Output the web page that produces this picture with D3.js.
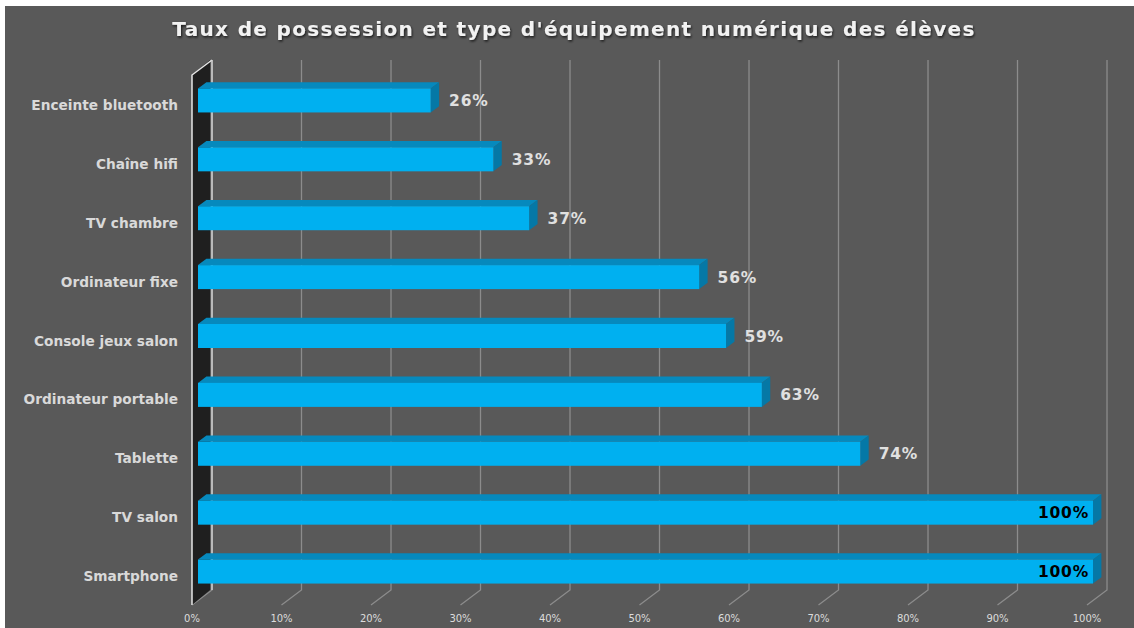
<!DOCTYPE html>
<html>
<head>
<meta charset="utf-8">
<script src="https://cdn.jsdelivr.net/npm/d3@7"></script>
<style>
html,body{margin:0;padding:0;background:#fff;}
svg{display:block;}
</style>
</head>
<body>
<svg id="chart" width="1134" height="628"></svg>
<script>
const categories = ["Enceinte bluetooth","Chaîne hifi","TV chambre","Ordinateur fixe","Console jeux salon","Ordinateur portable","Tablette","TV salon","Smartphone"];
const values = [0.26,0.33,0.37,0.56,0.59,0.63,0.74,1.00,1.00];
const tickValues = [0,0.1,0.2,0.3,0.4,0.5,0.6,0.7,0.8,0.9,1.0];
const title = "Taux de possession et type d'équipement numérique des élèves";

const W = 1134, H = 628;
const svg = d3.select("#chart");
const font = "'DejaVu Sans', Verdana, sans-serif";

// background
svg.append("rect").attr("x",5).attr("y",6).attr("width",W-5).attr("height",H-6).attr("fill","#595959");

// 3D geometry
const DX = 20, DY = -15;            // full depth offset
const x = d3.scaleLinear().domain([0,1]).range([192,1087]);   // front plane
const y = d3.scaleBand().domain(categories).range([75,605]).paddingInner(0).paddingOuter(0);
const floorY = 605;
const dFront = 0.3, dBack = 0.72;   // bar depth fractions

// gridlines on back wall + floor diagonals
svg.append("g").selectAll("path.grid").data(tickValues).join("path")
  .attr("class","grid")
  .attr("d", t => `M${x(t)+DX},${75+DY} L${x(t)+DX},${floorY+DY} L${x(t)},${floorY}`)
  .attr("fill","none").attr("stroke","#8c8c8c").attr("stroke-width",1.3);

// left wall
const wall = svg.append("g");
wall.append("path")
  .attr("d", `M${x(0)},${75} L${x(0)+DX-2},${75+DY} L${x(0)+DX-2},${floorY+DY} L${x(0)},${floorY} Z`)
  .attr("fill","#1f1f1f");
wall.append("path")
  .attr("d", `M${x(0)},${floorY} L${x(0)},${75} L${x(0)+DX},${75+DY}`)
  .attr("fill","none").attr("stroke","#e6e6e6").attr("stroke-width",1.5);
wall.append("line")
  .attr("x1",x(0)+DX).attr("x2",x(0)+DX).attr("y1",75+DY).attr("y2",floorY+DY)
  .attr("stroke","#d0d0d0").attr("stroke-width",1.5);

// axis tick labels (front)
svg.append("g").selectAll("text").data(tickValues).join("text")
  .attr("x", t => x(t)).attr("y", 622)
  .attr("text-anchor","middle")
  .attr("font-family", font).attr("font-size", 10)
  .attr("fill","#dcdcdc")
  .text(d3.format(".0%"));

// bars
const barH = 24;
const bars = svg.append("g").selectAll("g").data(categories.map((c,i)=>({c, v:values[i]}))).join("g");
const fx = d => x(0) + DX*dFront;
const fy = d => y(d.c) + y.bandwidth()/2 + DY*dFront - barH/2 + 0.5;
const ddx = DX*(dBack-dFront), ddy = DY*(dBack-dFront);
// top face
bars.append("path")
  .attr("d", d => {
    const x0 = fx(d), x1 = x(d.v) + DX*dFront, y0 = fy(d);
    return `M${x0},${y0} L${x0+ddx},${y0+ddy} L${x1+ddx},${y0+ddy} L${x1},${y0} Z`;
  })
  .attr("fill","#0689bd");
// side face
bars.append("path")
  .attr("d", d => {
    const x1 = x(d.v) + DX*dFront, y0 = fy(d);
    return `M${x1},${y0} L${x1+ddx},${y0+ddy} L${x1+ddx},${y0+ddy+barH} L${x1},${y0+barH} Z`;
  })
  .attr("fill","#0578a6");
// front face
bars.append("rect")
  .attr("x", fx)
  .attr("y", fy)
  .attr("width", d => x(d.v) - x(0))
  .attr("height", barH)
  .attr("fill","#00b0f0");

// value labels
bars.append("text")
  .attr("x", d => d.v >= 1 ? x(d.v) + DX*dFront - 4 : x(d.v) + DX*dFront + ddx + 10)
  .attr("y", d => fy(d) + barH/2 + 5.5)
  .attr("text-anchor", d => d.v >= 1 ? "end" : "start")
  .attr("font-family", font).attr("font-weight","bold").attr("font-size", 15.5)
  .attr("letter-spacing", 0.8)
  .attr("fill", d => d.v >= 1 ? "#000" : "#e0e0e0")
  .text(d => d3.format(".0%")(d.v));

// category labels
svg.append("g").selectAll("text").data(categories).join("text")
  .attr("x", 178).attr("y", c => y(c) + y.bandwidth()/2 + 5.5)
  .attr("text-anchor","end")
  .attr("font-family", font).attr("font-weight","bold").attr("font-size", 13.7)
  .attr("fill","#d9d9d9")
  .text(c => c);

// title
const defs = svg.append("defs");
const f = defs.append("filter").attr("id","sh").attr("x","-5%").attr("y","-30%").attr("width","110%").attr("height","160%");
f.append("feDropShadow").attr("dx",1).attr("dy",1.5).attr("stdDeviation",1.2).attr("flood-color","#000").attr("flood-opacity",0.7);
svg.append("text")
  .attr("x", 574).attr("y", 36)
  .attr("text-anchor","middle")
  .attr("font-family", font).attr("font-weight","bold").attr("font-size", 20)
  .attr("letter-spacing", 1.35)
  .attr("fill","#f2f2f2")
  .attr("filter","url(#sh)")
  .text(title);
</script>
</body>
</html>
